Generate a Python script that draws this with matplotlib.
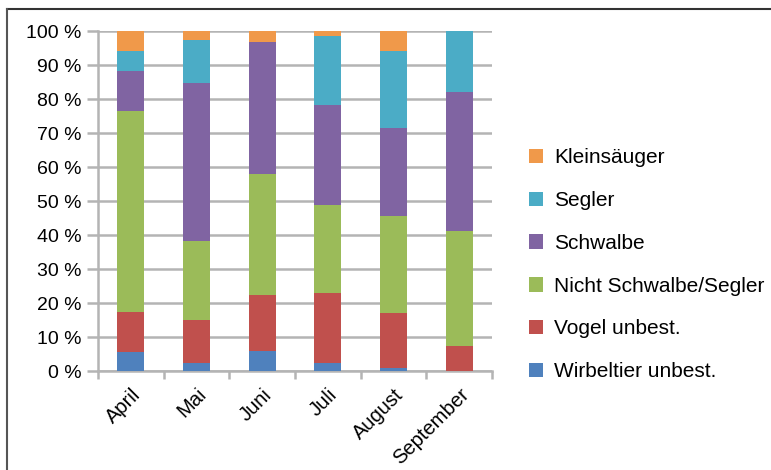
import matplotlib.pyplot as plt
import numpy as np
from matplotlib.lines import Line2D
from matplotlib.patches import Patch

plt.rcParams['font.family'] = ['Liberation Sans', 'DejaVu Sans']

# Monate und Anteile (%) je Kategorie, von unten nach oben gestapelt
months = ["April", "Mai", "Juni", "Juli", "August", "September"]
wirbeltier = [5.7, 2.3, 6.0, 2.5, 0.8, 0.0]
vogel = [11.6, 12.7, 16.3, 20.3, 16.3, 7.4]
nicht_schwalbe = [59.3, 23.2, 35.6, 25.9, 28.4, 33.7]
schwalbe = [11.7, 46.4, 39.0, 29.6, 26.0, 41.1]
segler = [5.8, 12.9, 0.0, 20.3, 22.6, 17.8]
kleinsaeuger = [5.9, 2.5, 3.1, 1.4, 5.9, 0.0]

series = [
    ("Wirbeltier unbest.", wirbeltier, "#4F81BD"),
    ("Vogel unbest.", vogel, "#C0504D"),
    ("Nicht Schwalbe/Segler", nicht_schwalbe, "#9BBB59"),
    ("Schwalbe", schwalbe, "#8064A2"),
    ("Segler", segler, "#4BACC6"),
    ("Kleinsäuger", kleinsaeuger, "#F0994A"),
]

fig = plt.figure(figsize=(7.71, 4.70), dpi=100)
ax = fig.add_axes([0.127, 0.2106, 0.511, 0.7234])

x = np.arange(len(months))
bottom = np.zeros(len(months))
for name, vals, col in series:
    ax.bar(x, vals, 0.41, bottom=bottom, color=col, label=name, zorder=3)
    bottom += np.array(vals)

grid_col = "#b4b4b4"
ax.set_ylim(0, 100)
ax.set_xlim(-0.5, len(months) - 0.5)
ax.set_yticks(np.arange(0, 101, 10))
ax.set_yticklabels([f"{v} %" for v in range(0, 101, 10)], fontsize=14)
ax.yaxis.grid(True, color=grid_col, linewidth=1.8, zorder=0)
ax.tick_params(axis='y', length=8, width=1.8, color=grid_col, pad=4)

ax.set_xticks(x)
ax.set_xticklabels(months, rotation=45, ha='right', rotation_mode='anchor', fontsize=14.5)
ax.tick_params(axis='x', length=0, pad=10)
ax.set_xticks(np.arange(-0.5, len(months)), minor=True)
ax.tick_params(axis='x', which='minor', length=6, width=1.8, color=grid_col)

for side in ['top', 'right']:
    ax.spines[side].set_visible(False)
for side in ['left', 'bottom']:
    ax.spines[side].set_color(grid_col)
    ax.spines[side].set_linewidth(1.8)

handles = [Patch(facecolor=c, label=n) for n, v, c in series[::-1]]
fig.legend(handles=handles, loc='upper left', bbox_to_anchor=(0.675, 0.702),
           frameon=False, fontsize=15, handlelength=0.7, handleheight=0.7,
           handletextpad=0.5, labelspacing=1.14, borderaxespad=0)

# Rahmen oben und links
fig.add_artist(Line2D([7 / 771, 1], [1 - 9 / 470, 1 - 9 / 470], color="#333333", linewidth=1.5))
fig.add_artist(Line2D([7 / 771, 7 / 771], [0, 1 - 9 / 470], color="#555555", linewidth=1.5))

fig.savefig("out.png", dpi=100)
